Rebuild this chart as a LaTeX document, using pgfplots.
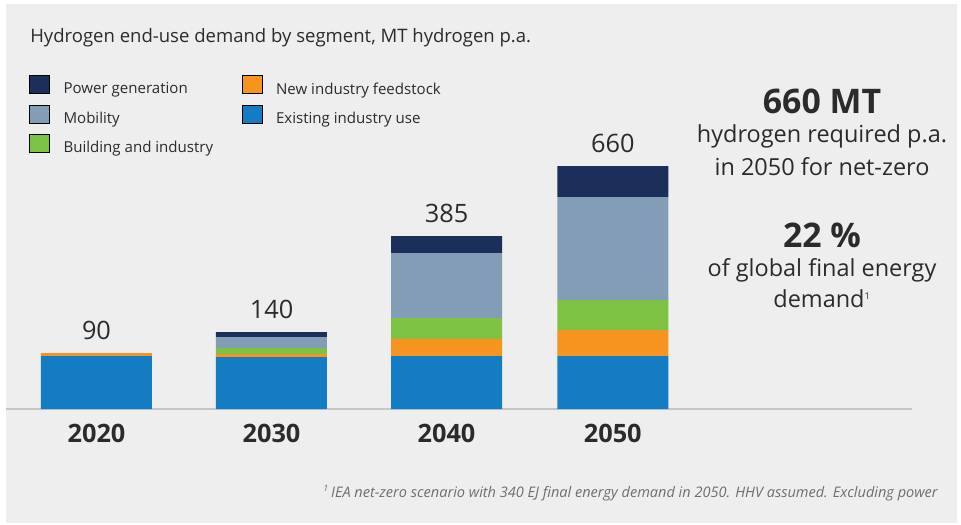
\documentclass[border=0pt]{standalone}
\usepackage{fontspec}
\setmainfont{Open Sans}
\usepackage{pgfplots}
\pgfplotsset{compat=1.18}
\definecolor{bg}{HTML}{EEEEEE}
\definecolor{txt}{HTML}{2B2B2B}
\definecolor{note}{HTML}{6E6E6E}
\definecolor{power}{HTML}{1C2E5A}
\definecolor{mobil}{HTML}{839DB6}
\definecolor{build}{HTML}{7DC242}
\definecolor{newind}{HTML}{F7941F}
\definecolor{exist}{HTML}{147CC3}
\definecolor{base}{HTML}{C6C6CA}
\begin{document}
\begin{tikzpicture}
\begin{scope}[x=0.75pt,y=-0.75pt]
\fill[white] (0,0) rectangle (961,525);
\fill[bg] (6,4) rectangle (957,523);
\node[anchor=base west, inner sep=0pt, text=txt, font=\fontsize{13.9}{16}\selectfont] at (30,42) {Hydrogen end-use demand by segment, MT hydrogen p.a.};
\node[inner sep=0pt, text=txt, font=\fontsize{25.4}{30}\selectfont\bfseries] at (822,101) {660 MT};
\node[inner sep=0pt, text=txt, font=\fontsize{17.6}{21}\selectfont] at (822,136) {hydrogen required p.a.};
\node[inner sep=0pt, text=txt, font=\fontsize{17.6}{21}\selectfont] at (822,167) {in 2050 for net-zero};
\node[inner sep=0pt, text=txt, font=\fontsize{25.4}{30}\selectfont\bfseries] at (822,235) {22 \%};
\node[inner sep=0pt, text=txt, font=\fontsize{17.6}{21}\selectfont] at (822,270) {of global final energy};
\node[inner sep=0pt, text=txt, font=\fontsize{17.6}{21}\selectfont] at (822,299) {demand\textsuperscript{\fontsize{7}{8}\selectfont 1}};
\node[anchor=base east, inner sep=0pt, text=note, font=\fontsize{10.9}{13}\selectfont\itshape] at (938,497) {\textsuperscript{\fontsize{6.5}{7}\selectfont 1}\,IEA net-zero scenario with 340 EJ final energy demand in 2050. HHV assumed. Excluding power};
\end{scope}
\begin{axis}[
  at={(4.5pt,-306.75pt)}, anchor=south west,
  scale only axis, width=679.5pt, height=195pt,
  xmin=-0.5171, xmax=4.66, ymin=0, ymax=260,
  ybar stacked, bar width=83.25pt,
  axis x line=bottom, axis y line=none,
  x axis line style={-, draw=base, line width=1.5pt},
  xtick={0,1,2,2.95}, xticklabels={2020,2030,2040,2050},
  major tick length=0pt, ytick=\empty,
  xticklabel style={font=\fontsize{19}{22}\selectfont\bfseries, text=txt, yshift=-7.5pt},
  /pgf/number format/assume math mode=true,
  clip=false,
  legend columns=2,
  legend cell align=left,
  legend style={at={(0.0254,1.2846)}, anchor=north west, draw=none, fill=none,
    inner sep=0pt, outer sep=0pt, row sep=6.35pt,
    font=\fontsize{11.3}{13}\selectfont, text=txt,
    nodes={inner sep=0pt},
    /tikz/every odd column/.style={column sep=10.5pt},
    /tikz/every even column/.style={column sep=0pt}},
  legend image code/.code={\fill[#1] (0pt,-3pt) rectangle (15pt,10.5pt);},
]
\addplot[fill=exist, draw=none, forget plot] coordinates {(0,53) (1,52) (2,53) (2.95,53)};
\addplot[fill=newind, draw=none, forget plot] coordinates {(0,3) (1,3) (2,17) (2.95,26)};
\addplot[fill=build, draw=none, forget plot] coordinates {(0,0) (1,6) (2,21) (2.95,30)};
\addplot[fill=mobil, draw=none, forget plot] coordinates {(0,0) (1,11) (2,65) (2.95,103)};
\addplot[fill=power, draw=none, forget plot] coordinates {(0,0) (1,5) (2,17) (2.95,31)};
\addplot[fill=none, draw=none, forget plot,
  point meta=explicit symbolic, nodes near coords,
  every node near coord/.style={anchor=center, yshift=17pt, font=\fontsize{19}{22}\selectfont, text=txt}]
  coordinates {(0,0.01)[90] (1,0.01)[140] (2,0.01)[385] (2.95,0.01)[660]};
\addlegendimage{fill=power}\addlegendentry{\makebox[133.5pt][l]{Power generation}}
\addlegendimage{fill=newind}\addlegendentry{New industry feedstock}
\addlegendimage{fill=mobil}\addlegendentry{\makebox[133.5pt][l]{Mobility}}
\addlegendimage{fill=exist}\addlegendentry{Existing industry use}
\addlegendimage{fill=build}\addlegendentry{\makebox[133.5pt][l]{Building and industry}}
\end{axis}
\end{tikzpicture}
\end{document}
